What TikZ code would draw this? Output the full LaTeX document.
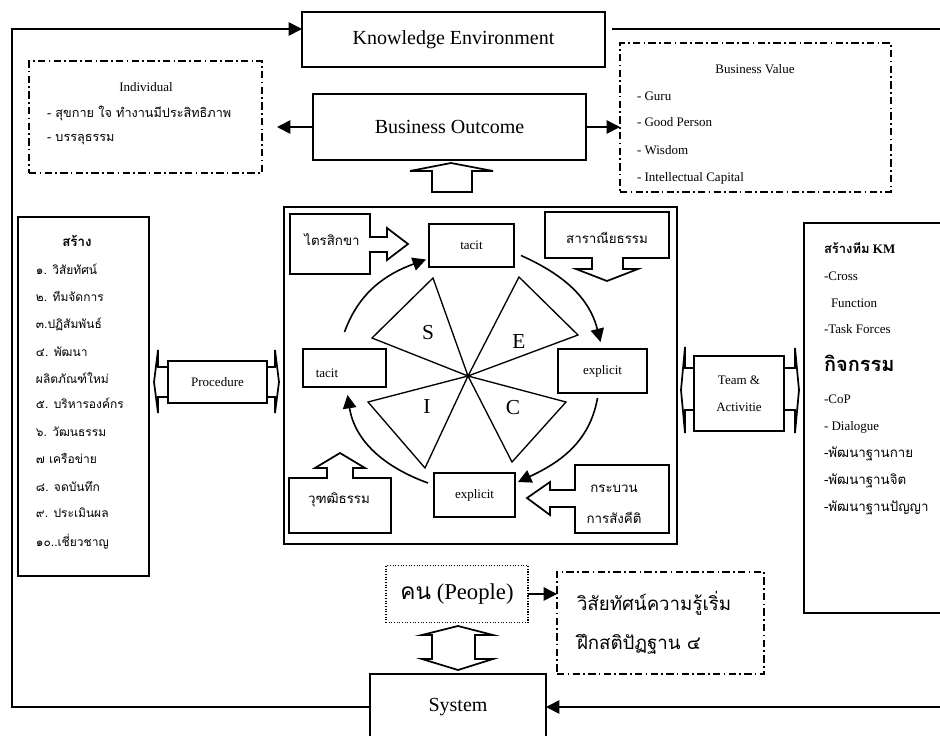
\documentclass[tikz,border=0pt]{standalone}
\usepackage{fontspec}
\setmainfont{Liberation Serif}
\newfontfamily\thaif[Script=Thai]{Loma}
\usetikzlibrary{arrows.meta,calc}
\newcommand\thaitxt[1]{{\thaif #1}}
\begin{document}
\begin{tikzpicture}[x=0.75pt,y=-0.75pt,
  every node/.style={inner sep=0pt,outer sep=0pt},
  sz/.style 2 args={minimum width=#1*0.75pt,minimum height=#2*0.75pt},
  box/.style={draw,line width=1.3pt,fill=white},
  dashdotbox/.style={draw,line width=1.1pt,dash pattern=on 5.5pt off 2.5pt on 1.2pt off 2.5pt},
  dottedbox/.style={draw,line width=0.8pt,dash pattern=on 0.8pt off 1.2pt},
  arr/.style={line width=1.2pt,-{Triangle[length=10pt,width=10pt]}},
  block/.style={draw,line width=1.3pt,fill=white,line join=miter},
  wedge/.style={draw,line width=1pt,line join=miter},
  big/.style={font=\fontsize{15}{18}\selectfont},
  small/.style={font=\fontsize{9.75}{12}\selectfont},
  thai/.style={font=\thaif\fontsize{#1}{#1}\selectfont},
  letter/.style={font=\fontsize{16}{18}\selectfont},
  lst/.style={anchor=base west}
]
\useasboundingbox (0,0) rectangle (940,736);
\clip (0,0) rectangle (940,736);

% ---------- top row ----------
\node[box,sz={303}{55},big] (ke) at (453.5,39.5) {Knowledge Environment};
\node[box,sz={273}{66},big] (bo) at (449.5,127) {Business Outcome};

\node[dashdotbox,sz={233}{112}] (indiv) at (145.5,117) {};
\node[small,anchor=base] (indivT) at (146,91) {Individual};
\node[thai=9.5,lst] (indiv1) at (47,117) {- สุขกาย ใจ ทำงานมีประสิทธิภาพ};
\node[thai=9.5,lst] (indiv2) at (47,141) {- บรรลุธรรม};

\node[dashdotbox,sz={271}{149}] (bval) at (755.5,117.5) {};
\node[small,anchor=base] (bvT) at (755,73) {Business Value};
\node[small,lst] (bv1) at (637,100) {- Guru};
\node[small,lst] (bv2) at (637,126) {- Good Person};
\node[small,lst] (bv3) at (637,154) {- Wisdom};
\node[small,lst] (bv4) at (637,181) {- Intellectual Capital};

\draw[arr,shorten >=15*0.75pt] (bo.west) -- (bo.west -| indiv.east);
\draw[arr] (bo.east) -- (bo.east -| bval.west);

% hollow arrow from the SECI frame up to the outcome
\draw[block] (451,163) -- (493,171) -- (472,171) -- (472,192) -- (432,192)
  -- (432,171) -- (410,171) -- cycle;

% ---------- SECI frame ----------
\node[box,sz={393}{337}] (frame) at (480.5,375.5) {};

% callouts
\draw[block] (290,214) -- (370,214) -- (370,237) -- (387,237) -- (387,228)
  -- (408,244) -- (387,260) -- (387,252) -- (370,252) -- (370,274) -- (290,274) -- cycle;
\node[thai=10] (trisikkha) at (332,240) {ไตรสิกขา};

\draw[block] (545,212) -- (669,212) -- (669,258) -- (623,258) -- (623,269)
  -- (638,269) -- (607,281) -- (576,269) -- (592,269) -- (592,258) -- (545,258) -- cycle;
\node[thai=10] (saraniya) at (607,238) {สาราณียธรรม};

\draw[block] (289,533) -- (289,478) -- (327,478) -- (327,468) -- (315,468)
  -- (340,453) -- (365,468) -- (353,468) -- (353,478) -- (391,478) -- (391,533) -- cycle;
\node[thai=10] (vuddhi) at (339,500) {วุฑฒิธรรม};

\draw[block] (669,465) -- (575,465) -- (575,490) -- (550,490) -- (550,482)
  -- (527,498) -- (550,515) -- (550,507) -- (575,507) -- (575,533) -- (669,533) -- cycle;
\node[thai=10] (krabuan1) at (614,489) {กระบวน};
\node[thai=10] (krabuan2) at (614,518) {การสังคีติ};

% four knowledge states
\node[box,sz={85}{43},small] (tacitT) at (471.5,245.5) {tacit};
\node[box,sz={89}{44},small] (explR) at (602.5,371) {explicit};
\node[box,sz={81}{44},small] (explB) at (474.5,495) {explicit};
\node[box,sz={83}{38}] (tacitL) at (344.5,368) {};
\node[small] (tacitLT) at (327,373) {tacit};

% S E C I wedges
\coordinate (hub) at (468,376);
\draw[wedge] (hub) -- (433,278) -- (372,338) -- cycle;
\draw[wedge] (hub) -- (519,277) -- (578,335) -- cycle;
\draw[wedge] (hub) -- (368,402) -- (425,468) -- cycle;
\draw[wedge] (hub) -- (566,402) -- (512,462) -- cycle;
\node[letter] (lS) at (428,333) {S};
\node[letter] (lE) at (519,342) {E};
\node[letter] (lI) at (427,407) {I};
\node[letter] (lC) at (513,408) {C};

% spiral of conversion
\draw[arr] ($(tacitL.north)+(0,-17)$) to[out=70,in=200] ($(tacitT.west)+(-3,14)$);
\draw[arr] ($(tacitT.east)+(7,10)$) to[out=-24,in=104] ($(explR.north)+(-2,-7)$);
\draw[arr] ($(explR.south)+(-5,5)$) to[out=-100,in=25] ($(explB.east)+(3,-13)$);
\draw[arr] ($(explB.west)+(-6,-12)$) to[out=160,in=-81] ($(tacitL.south)+(3,8)$);

% ---------- left side ----------
\node[box,sz={131}{359}] (lbox) at (83.5,396.5) {};
\node[font=\thaif\bfseries\fontsize{10}{10}\selectfont,anchor=base] (lhead) at (77,246) {สร้าง};
\foreach \t/\y [count=\i] in {๑. วิสัยทัศน์/274, ๒. ทีมจัดการ/301, ๓.ปฏิสัมพันธ์/328,
  ๔. พัฒนา/356, ผลิตภัณฑ์ใหม่/383, ๕. บริหารองค์กร/408, ๖. วัฒนธรรม/436,
  ๗ เครือข่าย/463, ๘. จดบันทึก/491, ๙. ประเมินผล/517, ๑๐..เชี่ยวชาญ/546}
  \node[thai=9,lst] (litem\i) at (36,\y) {\t};

\draw[block] (154,382) -- (158,350) -- (158,367) -- (275,367) -- (275,350)
  -- (279,382) -- (275,413) -- (275,397) -- (158,397) -- (158,413) -- cycle;
\node[box,sz={99}{42},small] (proc) at (217.5,382) {Procedure};

% ---------- right side ----------
\draw[block] (681,390) -- (685,347) -- (685,368) -- (795,368) -- (795,348)
  -- (799,390) -- (795,433) -- (795,410) -- (685,410) -- (685,433) -- cycle;
\node[box,sz={90}{75},font=\fontsize{9.75}{20.25}\selectfont,align=center] (team) at (739,393.5) {Team \&\\Activitie};

\node[box,sz={146}{390}] (rbox) at (877,418) {};
\node[lst,font=\bfseries\fontsize{9.75}{12}\selectfont] (r1) at (824,253) {\thaitxt{สร้างทีม} KM};
\node[small,lst] (r2) at (824,280) {-Cross};
\node[small,lst] (r3) at (831,307) {Function};
\node[small,lst] (r4) at (824,333) {-Task Forces};
\node[font=\thaif\bfseries\fontsize{15}{15}\selectfont,lst] (r5) at (824,371) {กิจกรรม};
\node[small,lst] (r6) at (824,403) {-CoP};
\node[small,lst] (r7) at (824,430) {- Dialogue};
\node[thai=10,lst] (r8) at (824,457) {-พัฒนาฐานกาย};
\node[thai=10,lst] (r9) at (824,484) {-พัฒนาฐานจิต};
\node[thai=10,lst] (r10) at (824,511) {-พัฒนาฐานปัญญา};

% ---------- bottom ----------
\node[dottedbox,sz={142}{57},font=\fontsize{17}{17}\selectfont] (people) at (457,594) {\thaitxt{คน} (People)};
\node[dashdotbox,sz={207}{102}] (vision) at (660.5,623) {};
\node[thai=14,lst] (vis1) at (577,610) {วิสัยทัศน์ความรู้เริ่ม};
\node[thai=14,lst] (vis2) at (577,649) {ฝึกสติปัฏฐาน ๔};
\draw[arr] (people.east) -- (people.east -| vision.west);

\draw[block] (458,626) -- (493,635) -- (475,635) -- (475,659) -- (493,659)
  -- (458,670) -- (422,659) -- (432,659) -- (432,635) -- (422,635) -- cycle;

\node[box,sz={176}{66},big] (system) at (458,707) {System};

% ---------- outer loop ----------
\coordinate (loopTL) at (12,29);
\coordinate (keR) at (612,29);
\coordinate (loopTR) at (950,29);
\coordinate (loopBR) at (950,707);
\draw[arr] (system.west) -| (loopTL) -- (ke.west |- loopTL);
\draw[line width=1.2pt] (keR) -- (loopTR) -- (loopBR);
\draw[arr] (loopBR) -- (system.east);
\end{tikzpicture}
\end{document}
